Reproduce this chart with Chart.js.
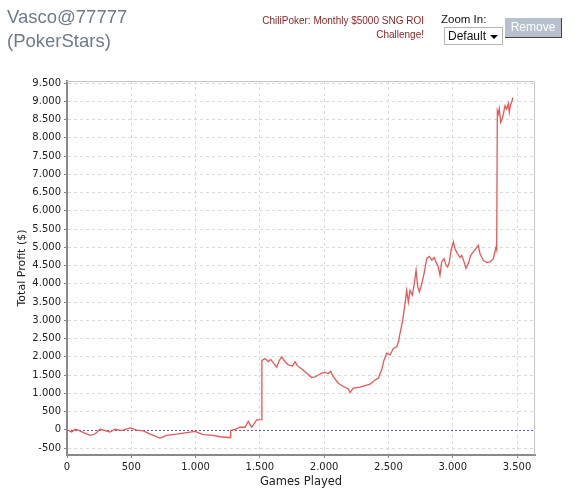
<!DOCTYPE html>
<html>
<head>
<meta charset="utf-8">
<script src="https://cdn.jsdelivr.net/npm/chart.js@4.4.0/dist/chart.umd.min.js"></script>
<style>
  body { margin: 0; background: #fff; font-family: "Liberation Sans", Arial, sans-serif; }
  #wrap { position: relative; width: 575px; height: 504px; overflow: hidden; }
  #chart { position: absolute; left: 0; top: 0; }
  #player { position: absolute; left: 7px; top: 5px; font-size: 18.5px; line-height: 24px; color: #6f7b89; }
  #promo { position: absolute; right: 151px; top: 14px; font-size: 10px; line-height: 14px; color: #8a1f1f; text-align: right; }
  #zoomLabel { position: absolute; left: 441px; top: 13px; font-size: 11.5px; color: #111; }
  #zoomSelect { position: absolute; left: 444px; top: 27px; width: 54px; height: 16px; border: 1px solid #b5b5b5;
                background: #fff; font-size: 12px; line-height: 16px; padding-left: 3px; color: #111; }
  #zoomSelect .arrow { position: absolute; right: 4px; top: 7px; width: 0; height: 0;
                       border-left: 4px solid transparent; border-right: 4px solid transparent; border-top: 4px solid #000; }
  #removeBtn { position: absolute; left: 505px; top: 18px; width: 56px; height: 19px; background: #b7c0cc; color: #fff;
               font-size: 12px; line-height: 19px; text-align: center; border-right: 1px solid #444; border-bottom: 1px solid #444; }
</style>
</head>
<body>
<div id="wrap">
  <canvas id="chart" width="575" height="504"></canvas>
  <div id="player">Vasco@77777<br>(PokerStars)</div>
  <div id="promo">ChiliPoker: Monthly $5000 SNG ROI<br>Challenge!</div>
  <div id="zoomLabel">Zoom In:</div>
  <div id="zoomSelect">Default<span class="arrow"></span></div>
  <div id="removeBtn">Remove</div>
</div>
<script>
// Games played (x) and running profit in $ (y)
const games = [
  0, 37, 62, 88, 127, 179, 218, 257, 296, 334, 373, 425, 490, 542, 594, 646, 723, 775, 853, 931,
  996, 1060, 1138, 1190, 1255, 1270, 1273, 1307, 1346, 1384, 1410, 1436, 1475, 1512,
  1516, 1540, 1566, 1584, 1605, 1631, 1651, 1670, 1696, 1722, 1755, 1774, 1792, 1826, 1864, 1903,
  1929, 1955, 1981, 2007, 2033, 2051, 2071, 2110, 2149, 2188, 2201, 2227, 2279, 2318, 2357, 2396,
  2421, 2448, 2465, 2487, 2513, 2538, 2565, 2578, 2590, 2611, 2629, 2642, 2655, 2668, 2686, 2701,
  2715, 2728, 2741, 2759, 2777, 2798, 2818, 2837, 2855, 2870, 2888, 2901, 2914, 2932, 2948, 2961,
  2974, 2987, 3005, 3018, 3036, 3057, 3070, 3088, 3103, 3122, 3140, 3166, 3199, 3212, 3238, 3264,
  3290, 3316, 3337, 3342, 3347, 3355, 3362, 3373, 3384, 3394, 3407, 3420, 3433, 3440, 3451, 3461, 3467
];
const profit = [
  0, -60, 15, -10, -77, -150, -115, 15, -20, -60, 15, -20, 50, -10, -30, -120, -225, -150, -120, -80,
  -45, -130, -150, -190, -210, -210, -20, 15, 70, 70, 230, 70, 270, 280,
  1900, 1950, 1870, 1930, 1835, 1715, 1900, 2000, 1865, 1775, 1750, 1865, 1750, 1665, 1550, 1430,
  1450, 1500, 1550, 1575, 1540, 1600, 1455, 1275, 1185, 1120, 1020, 1140, 1170, 1210, 1250, 1365,
  1410, 1650, 1900, 2100, 2050, 2230, 2275, 2410, 2640, 3000, 3460, 3820, 3500, 3820, 3690, 4000,
  4370, 3915, 3780, 4000, 4280, 4690, 4750, 4645, 4720, 4600, 4460, 4235, 4600, 4690, 4510, 4460,
  4600, 4920, 5150, 4960, 4830, 4720, 4780, 4600, 4420, 4560, 4780, 4900, 5055, 4830, 4640, 4580,
  4600, 4690, 5010, 4940, 8740, 8650, 8800, 8420, 8510, 8650, 8880, 8790, 8940, 8700, 8920, 9000, 9100
];
const xTicks = [0, 500, 1000, 1500, 2000, 2500, 3000, 3500];
const yTicks = [-500, 0, 500, 1000, 1500, 2000, 2500, 3000, 3500, 4000, 4500,
                5000, 5500, 6000, 6500, 7000, 7500, 8000, 8500, 9000, 9500];
const xRange = [0, 3640];
const yRange = [-690, 9555];

// thousands with a dot, like "9.500"
function fmt(v) {
  const s = String(Math.abs(v)).replace(/\B(?=(\d{3})+(?!\d))/g, '.');
  return v < 0 ? '-' + s : s;
}

const tickFont = { family: 'DejaVu Sans', size: 10 };

// light frame on top/right and the dashed zero line
const framePlugin = {
  id: 'frame',
  beforeDatasetsDraw(chart) {
    const { ctx, chartArea: a, scales: { y } } = chart;
    ctx.save();
    ctx.strokeStyle = '#c6c6c6';
    ctx.lineWidth = 1;
    ctx.beginPath();
    ctx.moveTo(a.left, a.top + 0.5);
    ctx.lineTo(a.right - 0.5, a.top + 0.5);
    ctx.lineTo(a.right - 0.5, a.bottom);
    ctx.stroke();
    const y0 = Math.round(y.getPixelForValue(0)) + 0.5;
    ctx.strokeStyle = '#5b5bab';
    ctx.setLineDash([2, 2]);
    ctx.beginPath();
    ctx.moveTo(a.left, y0);
    ctx.lineTo(a.right, y0);
    ctx.stroke();
    ctx.restore();
  }
};

new Chart(document.getElementById('chart'), {
  type: 'line',
  data: {
    datasets: [{
      data: games.map((g, i) => ({ x: g, y: profit[i] })),
      borderColor: '#e65858',
      borderWidth: 1.3,
      pointRadius: 0,
      tension: 0
    }]
  },
  options: {
    responsive: false,
    animation: false,
    layout: { padding: { top: 81, right: 40, bottom: 0, left: 0 } },
    plugins: { legend: { display: false }, tooltip: { enabled: false } },
    scales: {
      x: {
        type: 'linear',
        min: xRange[0], max: xRange[1],
        afterBuildTicks: s => { s.ticks = xTicks.map(v => ({ value: v })); },
        afterFit: s => { s.height = 49; },
        ticks: { maxRotation: 0, autoSkip: false, callback: fmt, font: tickFont, color: '#222', padding: 3 },
        grid: { color: '#dadada', tickLength: 3, tickColor: '#888' },
        border: { color: '#8a8a8a', width: 2, dash: [3, 3] },
        title: { display: true, text: 'Games Played', color: '#222',
                 font: { family: 'DejaVu Sans', size: 11.5 }, padding: { top: 0, bottom: 15 } }
      },
      y: {
        min: yRange[0], max: yRange[1],
        afterBuildTicks: s => { s.ticks = yTicks.map(v => ({ value: v })); },
        afterFit: s => { s.width = 67; },
        ticks: { autoSkip: false, callback: fmt, font: tickFont, color: '#222', padding: 3 },
        grid: { color: ctx => ctx.tick && ctx.tick.value === 0 ? 'rgba(0,0,0,0)' : '#dadada',
                tickLength: 3, tickColor: '#888' },
        border: { color: '#8a8a8a', width: 2, dash: [3, 3] },
        title: { display: true, text: 'Total Profit ($)', color: '#222',
                 font: { family: 'DejaVu Sans', size: 11 }, padding: { top: 16, bottom: 0 } }
      }
    }
  },
  plugins: [framePlugin]
});
</script>
</body>
</html>
